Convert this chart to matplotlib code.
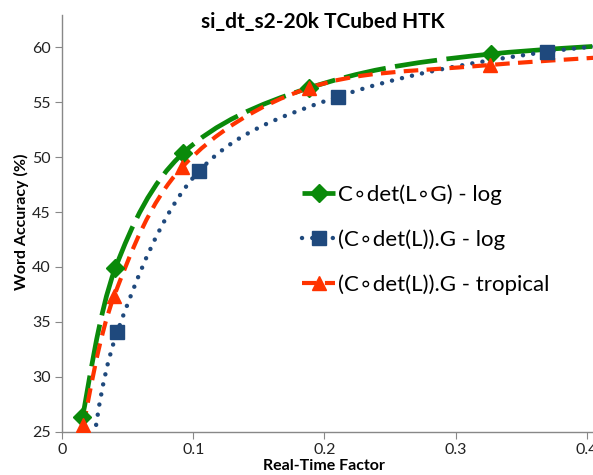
import matplotlib
matplotlib.use("Agg")
import matplotlib.pyplot as plt
from matplotlib.path import Path
from matplotlib.patches import PathPatch
from matplotlib.lines import Line2D
import numpy as np

# data (Excel smoothed scatter)
rtf_green = [0.0153, 0.0405, 0.0924, 0.188, 0.327, 0.60]
acc_green = [26.3, 39.9, 50.4, 56.3, 59.4, 61.3]

rtf_blue = [0.020, 0.042, 0.104, 0.210, 0.370, 0.60]
acc_blue = [21.0, 34.1, 48.7, 55.5, 59.6, 61.8]

rtf_red = [0.016, 0.0397, 0.0915, 0.188, 0.3265, 0.60]
acc_red = [25.6, 37.4, 49.1, 56.3, 58.4, 60.4]

labels = ["C\u2218det(L\u2218G) - log", "(C\u2218det(L)).G - log", "(C\u2218det(L)).G - tropical"]

GREEN = "#0A8A0A"
BLUE = "#1F497D"
RED = "#FF3300"

plt.rcParams['font.family'] = ['Lato', 'DejaVu Sans']


def smooth_path(xs, ys):
    # excel-like smoothing: catmull-rom tangents -> cubic bezier segments
    pts = np.column_stack([xs, ys]).astype(float)
    n = len(pts)
    verts = [pts[0]]
    codes = [Path.MOVETO]
    for i in range(n - 1):
        p0 = pts[i - 1] if i > 0 else pts[i]
        p1 = pts[i]
        p2 = pts[i + 1]
        p3 = pts[i + 2] if i + 2 < n else pts[i + 1]
        c1 = p1 + (p2 - p0) / 6.0
        c2 = p2 - (p3 - p1) / 6.0
        verts += [c1, c2, p2]
        codes += [Path.CURVE4] * 3
    return Path(verts, codes)


fig = plt.figure(figsize=(5.93, 4.75), dpi=100)
ax = fig.add_axes([0.105, 0.0912, 0.895, 0.8772])

series = [
    (rtf_green, acc_green, GREEN, (0, (9, 2)), 3.4, 'D', 9),
    (rtf_blue, acc_blue, BLUE, (0, (0.01, 2.3)), 3.2, 's', 10),
    (rtf_red, acc_red, RED, (0, (3.5, 2)), 3.0, '^', 10),
]

handles = []
for (xs, ys, col, ls, lw, mk, ms), lab in zip(series, labels):
    patch = PathPatch(smooth_path(xs, ys), facecolor='none', edgecolor=col,
                      linewidth=lw, linestyle=ls, capstyle='round' if mk == 's' else 'butt')
    ax.add_patch(patch)
    ax.plot(xs, ys, linestyle='none', marker=mk, markersize=ms, color=col,
            markeredgecolor=col, zorder=3, clip_on=True)
    handles.append(Line2D([], [], color=col, linewidth=lw, linestyle=ls,
                          dash_capstyle='round' if mk == 's' else 'butt',
                          marker=mk, markersize=ms, label=lab))

ax.set_xlim(0, 0.4048)
ax.set_ylim(25, 62.95)
ax.set_xticks([0, 0.1, 0.2, 0.3, 0.4])
ax.set_xticklabels(['0', '0.1', '0.2', '0.3', '0.4'])
ax.set_yticks([25, 30, 35, 40, 45, 50, 55, 60])

for side in ['top', 'right']:
    ax.spines[side].set_visible(False)
for side in ['left', 'bottom']:
    ax.spines[side].set_color('#888888')
    ax.spines[side].set_linewidth(1.0)
ax.tick_params(axis='both', colors='#888888', labelcolor='#222222',
               labelsize=11.5, length=5, direction='out')

leg = ax.legend(handles=handles, loc='upper left', bbox_to_anchor=(0.435, 0.615),
                frameon=False, fontsize=16, handlelength=1.5, handletextpad=0.1,
                labelspacing=1.1, borderaxespad=0)

fig.text(0.545, 0.953, 'si_dt_s2-20k TCubed HTK', ha='center', va='center',
         fontsize=15, fontweight='bold')
fig.text(0.037, 0.533, 'Word Accuracy (%)', ha='center', va='center',
         rotation=90, fontsize=11.5, fontweight='bold')
fig.text(0.547, 0.018, 'Real-Time Factor', ha='center', va='center',
         fontsize=11.5, fontweight='bold')

fig.savefig('out.png', dpi=100)
